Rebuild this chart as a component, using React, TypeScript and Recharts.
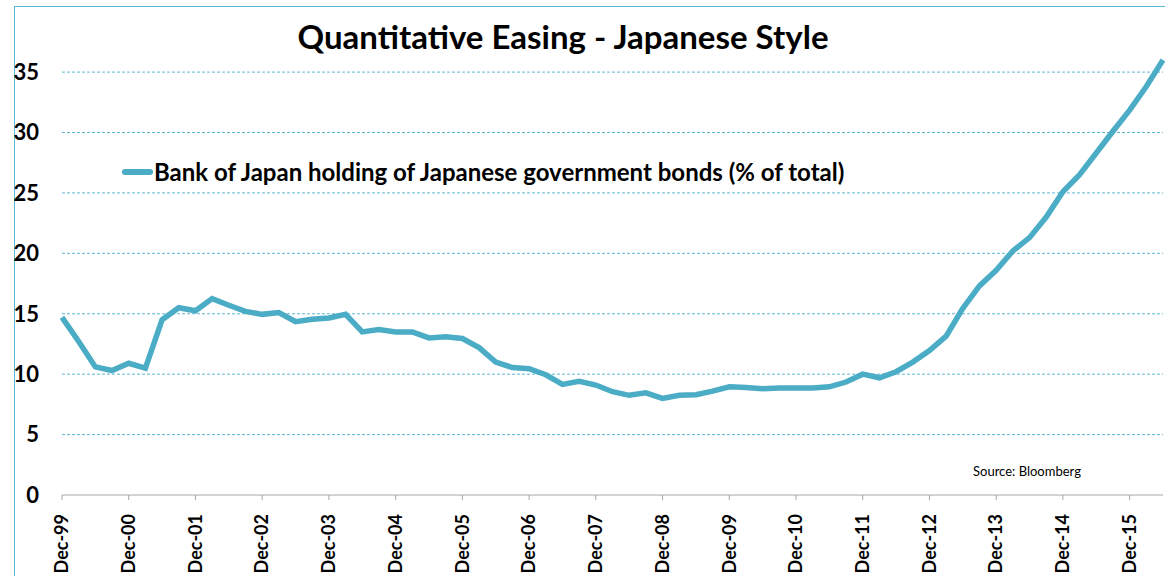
import { LineChart, Line, XAxis, YAxis, ReferenceLine } from "recharts";

// quarterly, Dec-99 .. Jun-16
const quarters = [
  "Dec-99", "Mar-00", "Jun-00", "Sep-00",
  "Dec-00", "Mar-01", "Jun-01", "Sep-01",
  "Dec-01", "Mar-02", "Jun-02", "Sep-02",
  "Dec-02", "Mar-03", "Jun-03", "Sep-03",
  "Dec-03", "Mar-04", "Jun-04", "Sep-04",
  "Dec-04", "Mar-05", "Jun-05", "Sep-05",
  "Dec-05", "Mar-06", "Jun-06", "Sep-06",
  "Dec-06", "Mar-07", "Jun-07", "Sep-07",
  "Dec-07", "Mar-08", "Jun-08", "Sep-08",
  "Dec-08", "Mar-09", "Jun-09", "Sep-09",
  "Dec-09", "Mar-10", "Jun-10", "Sep-10",
  "Dec-10", "Mar-11", "Jun-11", "Sep-11",
  "Dec-11", "Mar-12", "Jun-12", "Sep-12",
  "Dec-12", "Mar-13", "Jun-13", "Sep-13",
  "Dec-13", "Mar-14", "Jun-14", "Sep-14",
  "Dec-14", "Mar-15", "Jun-15", "Sep-15",
  "Dec-15", "Mar-16", "Jun-16",
];

const bojHolding = [
  14.7, 12.7, 10.6, 10.3,
  10.9, 10.5, 14.5, 15.5,
  15.25, 16.25, 15.7, 15.2,
  14.95, 15.1, 14.35, 14.55,
  14.65, 14.95, 13.5, 13.7,
  13.5, 13.5, 13.0, 13.1,
  12.95, 12.2, 11.0, 10.55,
  10.45, 9.95, 9.15, 9.4,
  9.1, 8.55, 8.25, 8.45,
  8.0, 8.25, 8.3, 8.6,
  8.95, 8.9, 8.8, 8.85,
  8.85, 8.85, 8.95, 9.35,
  10.0, 9.7, 10.2, 11.0,
  11.95, 13.15, 15.45, 17.3,
  18.6, 20.2, 21.3, 23.0,
  25.1, 26.5, 28.3, 30.1,
  31.85, 33.8, 36.0,
];

const yTicks = [0, 5, 10, 15, 20, 25, 30, 35];

const SERIES_NAME = "Bank of Japan holding of Japanese government bonds (% of total)";
const LINE_COLOR = "#4BACC6";
const FONT = "Lato, 'Open Sans', sans-serif";

const data = quarters.map((q, i) => ({ quarter: q, boj: bojHolding[i] }));

function XTick(props: any) {
  const { x, y, payload } = props;
  return (
    <text
      x={x}
      y={y + 12}
      transform={`rotate(-90, ${x}, ${y + 12})`}
      textAnchor="end"
      dy="0.35em"
      fontFamily={FONT}
      fontWeight={700}
      fontSize={18}
      fill="#000"
    >
      {payload.value}
    </text>
  );
}

export default function App() {
  return (
    <div
      style={{
        position: "absolute",
        left: 0,
        top: 0,
        width: 1165,
        height: 576,
        background: "#fff",
        overflow: "hidden",
      }}
    >
      {/* frame */}
      <div
        style={{
          position: "absolute",
          left: 14,
          top: 6,
          width: 1200,
          height: 600,
          borderLeft: "1.5px solid #5DB8DA",
          borderTop: "1.5px solid #5DB8DA",
        }}
      />
      <div
        style={{
          position: "absolute",
          left: 0,
          width: 1126,
          top: 16,
          textAlign: "center",
          fontFamily: FONT,
          fontWeight: 700,
          fontSize: 33,
          color: "#000",
        }}
      >
        Quantitative Easing - Japanese Style
      </div>
      <LineChart
        width={1165}
        height={576}
        data={data}
        margin={{ top: 60, right: 2, bottom: 0, left: 0 }}
      >
        {yTicks.slice(1).map((t) => (
          <ReferenceLine
            key={t}
            y={t}
            stroke="#5BB7D2"
            strokeDasharray="3 2"
          />
        ))}
        <XAxis
          dataKey="quarter"
          interval={3}
          height={81}
          tick={<XTick />}
          tickSize={5}
          tickLine={{ stroke: "#A6A6A6" }}
          axisLine={{ stroke: "#A6A6A6" }}
        />
        <YAxis
          width={62}
          domain={[0, 36]}
          ticks={yTicks}
          axisLine={false}
          tickLine={false}
          tickSize={0}
          tickMargin={23}
          tick={{ fontFamily: FONT, fontWeight: 700, fontSize: 22, fill: "#000" }}
        />
        <Line
          type="linear"
          dataKey="boj"
          name={SERIES_NAME}
          stroke={LINE_COLOR}
          strokeWidth={5.5}
          dot={false}
          activeDot={false}
          isAnimationActive={false}
        />
      </LineChart>
      {/* legend */}
      <div
        style={{
          position: "absolute",
          left: 122,
          top: 157,
          display: "flex",
          alignItems: "center",
          fontFamily: FONT,
        }}
      >
        <span
          style={{
            display: "inline-block",
            width: 31,
            height: 6,
            borderRadius: 3,
            background: LINE_COLOR,
          }}
        />
        <span style={{ fontSize: 24, fontWeight: 700, color: "#000", marginLeft: 1 }}>
          {SERIES_NAME}
        </span>
      </div>
      <div
        style={{
          position: "absolute",
          left: 973,
          top: 463,
          fontFamily: FONT,
          fontSize: 13,
          color: "#000",
        }}
      >
        Source: Bloomberg
      </div>
    </div>
  );
}
